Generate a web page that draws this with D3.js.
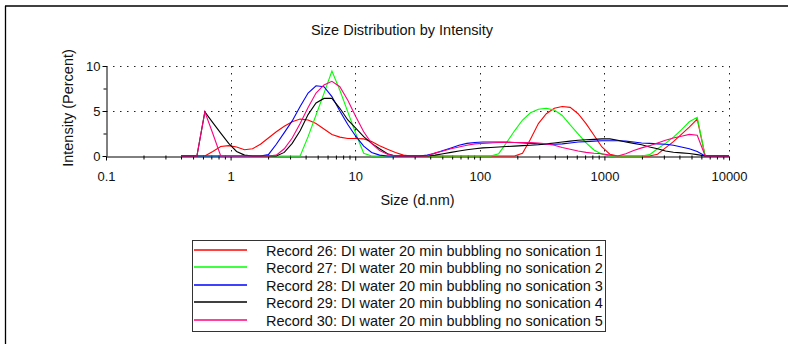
<!DOCTYPE html>
<html><head><meta charset="utf-8">
<script src="https://cdn.jsdelivr.net/npm/d3@7"></script>
<style>
html,body{margin:0;padding:0;background:#fff;}
svg{display:block;font-family:"Liberation Sans",Arial,sans-serif;}
</style>
</head><body>
<svg id="c" width="788" height="344"></svg>
<script>
// Size classes (d.nm)
const sizes = [0.4,0.4632,0.5365,0.6213,0.7195,0.8332,0.9649,1.117,1.294,1.499,
  1.736,2.010,2.328,2.696,3.122,3.615,4.187,4.849,5.615,6.503,
  7.531,8.721,10.10,11.70,13.54,15.69,18.17,21.04,24.36,28.21,
  32.67,37.84,43.82,50.75,58.77,68.06,78.82,91.28,105.7,122.4,
  141.8,164.2,190.1,220.2,255.0,295.3,342.0,396.1,458.7,531.2,
  615.1,712.4,825.0,955.4,1106,1281,1484,1718,1990,2305,
  2669,3091,3580,4145,4801,5560,6439,7456,8635,10000];

// Intensity (%) per record
const record26 = [0,0,0,0,0.5,1.05,1.15,1.0,0.7,0.8,
  1.3,2.0,2.7,3.3,3.8,4.1,4.0,3.6,3.0,2.4,
  2.1,1.95,1.95,1.9,1.6,1.15,0.75,0.4,0.1,0,
  0,0,0,0,0,0,0,0,0,0,
  0,0,0,0.3,1.85,3.6,4.7,5.3,5.5,5.4,
  4.7,3.6,2.3,1.0,0.2,0,0,0,0,0,
  0.2,0.9,1.6,2.4,3.2,4.1,0,0,0,0];
const record27 = [0,0,0,0,0,0,0,0,0,0,
  0,0,0,0,0,0,2.15,4.55,6.96,9.45,
  7.3,4.9,2.5,0.3,0,0,0,0,0,0,
  0,0,0,0,0,0,0,0,0,0,
  0.26,1.5,2.8,4.0,4.8,5.2,5.3,5.1,4.5,3.45,
  2.45,1.45,0.67,0.2,0,0,0,0,0,0.15,
  0.8,1.4,2.1,2.9,3.8,4.3,0,0,0,0];
const record28 = [0,0,0,0,0,0,0,0,0,0,
  0,0.15,1.3,2.6,3.9,5.5,7.0,7.8,7.7,6.6,
  5.0,3.5,2.2,1.1,0.4,0.1,0,0,0,0,
  0,0.1,0.3,0.6,0.9,1.2,1.4,1.5,1.55,1.55,
  1.55,1.55,1.5,1.45,1.4,1.35,1.3,1.3,1.35,1.45,
  1.55,1.6,1.65,1.7,1.7,1.7,1.65,1.55,1.45,1.4,
  1.35,1.3,1.2,1.0,0.8,0.5,0,0,0,0];
const record29 = [0,0,0,4.9,3.7,2.55,1.4,0.5,0.1,0,
  0,0,0,0.4,1.4,2.8,4.6,5.9,6.4,6.4,
  5.3,4.0,3.1,2.15,1.4,0.8,0.25,0,0,0,
  0,0,0.1,0.25,0.4,0.55,0.7,0.8,0.9,0.95,
  1.0,1.05,1.1,1.15,1.2,1.25,1.35,1.45,1.55,1.65,
  1.75,1.8,1.85,1.9,1.9,1.75,1.55,1.4,1.25,1.0,
  0.8,0.55,0.42,0.35,0.28,0.15,0,0,0,0];
const record30 = [0,0,0,4.9,2.5,0,0,0,0,0,
  0,0,0.1,0.8,2.0,3.6,5.4,7.0,7.9,8.3,
  7.7,6.2,4.4,2.7,1.4,0.6,0.2,0,0,0,
  0,0,0.35,0.55,0.8,1.0,1.2,1.35,1.4,1.45,
  1.5,1.5,1.5,1.5,1.5,1.45,1.35,1.2,0.95,0.75,
  0.55,0.4,0.3,0.25,0.1,0,0.25,0.6,0.9,1.15,
  1.45,1.75,2.0,2.2,2.4,2.3,0,0,0,0];

const seriesNames = [
  "Record 26: DI water 20 min bubbling no sonication 1",
  "Record 27: DI water 20 min bubbling no sonication 2",
  "Record 28: DI water 20 min bubbling no sonication 3",
  "Record 29: DI water 20 min bubbling no sonication 4",
  "Record 30: DI water 20 min bubbling no sonication 5"];
const seriesColors = ["#ff0000","#00ff00","#0000ff","#000000","#ff0080"];
const seriesValues = [record26, record27, record28, record29, record30];

const xMajorTicks = [0.1,1,10,100,1000,10000];
const xTickLabels = ["0.1","1","10","100","1000","10000"];
const yMajorTicks = [0,5,10];
const yMinorTicks = [2.5,7.5];
const chartTitle = "Size Distribution by Intensity";
const xTitle = "Size (d.nm)";
const yTitle = "Intensity (Percent)";

const series = seriesNames.map((name,k)=>({name, color: seriesColors[k], values: seriesValues[k]}));

const svg = d3.select("#c");
const L = 106, R = 729, T = 66, B = 156;
const x = d3.scaleLog().domain([0.1, 10000]).range([L, R]);
const y = d3.scaleLinear().domain([0, 10]).range([B, T]);

// frame
svg.append("line").attr("x1",5).attr("x2",788).attr("y1",6).attr("y2",6).attr("stroke","#000").attr("stroke-width",1.3);
svg.append("line").attr("x1",5.5).attr("x2",5.5).attr("y1",6).attr("y2",344).attr("stroke","#000").attr("stroke-width",1.3);

// title
svg.append("text").attr("x",402).attr("y",35).attr("text-anchor","middle")
  .attr("font-size","14.5px").attr("fill","#111").text(chartTitle);

// grid
const gridDash = "1.5,5.5";
svg.append("g").selectAll("line").data(xMajorTicks.slice(1)).join("line")
  .attr("x1",d=>Math.round(x(d))+0.5).attr("x2",d=>Math.round(x(d))+0.5)
  .attr("y1",T).attr("y2",B).attr("stroke","#222").attr("stroke-dasharray",gridDash);
svg.append("g").selectAll("line").data(yMajorTicks.slice(1)).join("line")
  .attr("x1",L).attr("x2",R).attr("y1",d=>Math.round(y(d))+0.5).attr("y2",d=>Math.round(y(d))+0.5)
  .attr("stroke","#222").attr("stroke-dasharray",gridDash);

// x minor ticks
const xMinor = [];
xMajorTicks.slice(0,-1).forEach(t=>{ for(let k=2;k<=9;k++) xMinor.push(+(t*k).toPrecision(3)); });
const gxm = svg.append("g").attr("transform",`translate(0,${B+0.5})`)
  .call(d3.axisBottom(x).tickValues(xMinor).tickSize(3).tickSizeOuter(0).tickFormat(""));
gxm.select(".domain").remove();
gxm.selectAll(".tick line").attr("y1",-1).attr("stroke","#000");

// x major axis
const gx = svg.append("g").attr("transform",`translate(0,${B+0.5})`)
  .call(d3.axisBottom(x).tickValues(xMajorTicks).tickSize(4).tickSizeOuter(0)
    .tickFormat((d,i)=>xTickLabels[i]));
gx.select(".domain").attr("stroke","#000");
gx.selectAll(".tick line").attr("stroke","#000");
gx.selectAll(".tick text").attr("y",24.5).attr("dy",0).attr("font-size","13px")
  .attr("font-family","'Liberation Sans',Arial,sans-serif").attr("fill","#111");

// y axis
const gym = svg.append("g").attr("transform",`translate(${L+0.5},0)`)
  .call(d3.axisLeft(y).tickValues(yMinorTicks).tickSize(3).tickSizeOuter(0).tickFormat(""));
gym.select(".domain").remove();
gym.selectAll(".tick line").attr("stroke","#000");
const gy = svg.append("g").attr("transform",`translate(${L+0.5},0)`)
  .call(d3.axisLeft(y).tickValues(yMajorTicks).tickSize(4).tickSizeOuter(0).tickFormat(d3.format("d")));
gy.select(".domain").attr("stroke","#000");
gy.selectAll(".tick line").attr("stroke","#000");
gy.selectAll(".tick text").attr("x",-6).attr("dy","0.36em").attr("font-size","13px")
  .attr("font-family","'Liberation Sans',Arial,sans-serif").attr("fill","#111");

// axis titles
svg.append("text").attr("x",(L+R)/2).attr("y",205).attr("text-anchor","middle")
  .attr("font-size","14.5px").attr("fill","#111").text(xTitle);
svg.append("text").attr("transform","translate(73,108) rotate(-90)").attr("text-anchor","middle")
  .attr("font-size","14.5px").attr("fill","#111").text(yTitle);

// series
const line = d3.line().x((d,i)=>x(sizes[i])).y(d=>y(d));
svg.append("g").selectAll("path").data(series).join("path")
  .attr("d",s=>line(s.values)).attr("fill","none")
  .attr("stroke",s=>s.color).attr("stroke-width",1.1);

// legend
const lg = svg.append("g");
lg.append("rect").attr("x",192.5).attr("y",240.5).attr("width",413).attr("height",91)
  .attr("fill","#fff").attr("stroke","#333").attr("stroke-width",1);
series.forEach((s,k)=>{
  const ry = Math.round(249.5 + k*17.6);
  lg.append("line").attr("x1",194).attr("x2",247).attr("y1",ry).attr("y2",ry)
    .attr("stroke",s.color).attr("stroke-width",1.3);
  lg.append("text").attr("x",266).attr("y",ry+6).attr("font-size","14.5px").attr("fill","#111").text(s.name);
});
</script>
</body></html>
